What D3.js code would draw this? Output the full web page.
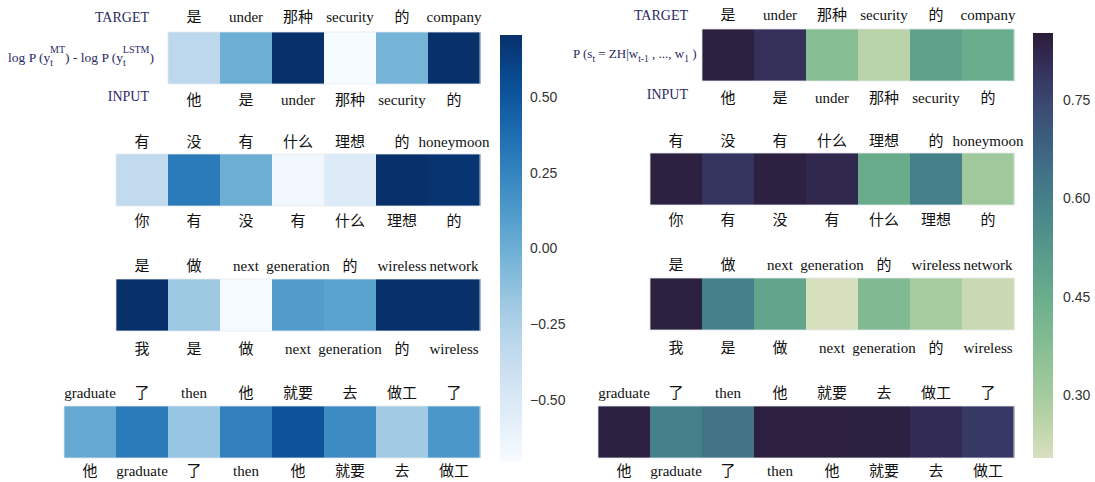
<!DOCTYPE html>
<html>
<head>
<meta charset="utf-8">
<script src="https://cdn.jsdelivr.net/npm/d3@7"></script>
<style>
  html, body { margin: 0; padding: 0; background: #fff; }
  svg { display: block; }
  .tok { font-family: "Liberation Serif", "Noto Sans CJK SC", serif; font-size: 15px; fill: #111; }
  .side { font-family: "Liberation Serif", serif; fill: #2a2a66; }
  .cb text { font-family: "Liberation Sans", Arial, sans-serif; font-size: 14px; fill: #333; }
</style>
</head>
<body>
<script>
// ---------------- DATA ----------------
const targetTokens = [
  ["是", "under", "那种", "security", "的", "company"],
  ["有", "没", "有", "什么", "理想", "的", "honeymoon"],
  ["是", "做", "next", "generation", "的", "wireless", "network"],
  ["graduate", "了", "then", "他", "就要", "去", "做工", "了"]
];
const inputTokens = [
  ["他", "是", "under", "那种", "security", "的"],
  ["你", "有", "没", "有", "什么", "理想", "的"],
  ["我", "是", "做", "next", "generation", "的", "wireless"],
  ["他", "graduate", "了", "then", "他", "就要", "去", "做工"]
];
// log P(y_t^MT) - log P(y_t^LSTM)
const logDiffValues = [
  [-0.32, 0.00, 0.70, -0.70, -0.03, 0.70],
  [-0.34, 0.31, 0.00, -0.66, -0.52, 0.70, 0.68],
  [0.70, -0.18, -0.69, 0.11, 0.07, 0.70, 0.70],
  [0.03, 0.30, -0.15, 0.27, 0.52, 0.21, -0.20, 0.14]
];
// P(s_t = ZH | w_{t-1}, ..., w_1)
const switchProbValues = [
  [0.84, 0.80, 0.375, 0.26, 0.49, 0.45],
  [0.84, 0.79, 0.84, 0.82, 0.455, 0.60, 0.31],
  [0.84, 0.60, 0.48, 0.21, 0.39, 0.295, 0.235],
  [0.84, 0.60, 0.635, 0.845, 0.845, 0.84, 0.81, 0.78]
];
const leftTicks = [-0.50, -0.25, 0.00, 0.25, 0.50];
const rightTicks = [0.30, 0.45, 0.60, 0.75];
const leftDomain = [-0.705, 0.705];
const rightDomain = [0.204, 0.852];
const rightStopValues = [0.204, 0.25, 0.30, 0.375, 0.45, 0.525, 0.60, 0.675, 0.75, 0.80, 0.852];
const rightStopColors = ["#d8e0c0", "#c0d6ac", "#a3cb9d", "#86bd93", "#6aad8c", "#55978b",
                         "#45808a", "#3e6482", "#3a4670", "#34305a", "#2b1c3b"];

// ---------------- SETUP ----------------
const W = 1095, H = 482;
const svg = d3.select("body").append("svg").attr("width", W).attr("height", H);

const leftColor = d3.scaleSequential(d3.interpolateBlues).domain(leftDomain);
const rightColor = d3.scaleLinear().domain(rightStopValues).range(rightStopColors)
  .interpolate(d3.interpolateRgb).clamp(true);

const cellW = 52, cellH = 52;

function drawPanel(cfg) {
  const g = svg.append("g");
  cfg.values.forEach((row, r) => {
    const n = row.length;
    const x = d3.scaleBand().domain(d3.range(n))
      .range([cfg.right - n * cellW, cfg.right]).padding(0);
    const top = cfg.tops[r];
    const rg = g.append("g");
    rg.selectAll("rect.cell").data(row).join("rect")
      .attr("class", "cell")
      .attr("x", (d, i) => x(i))
      .attr("y", top)
      .attr("width", x.bandwidth() + 0.5)
      .attr("height", cellH)
      .attr("fill", d => cfg.color(d));
    rg.append("rect")
      .attr("x", x.range()[0]).attr("y", top)
      .attr("width", x.range()[1] - x.range()[0]).attr("height", cellH)
      .attr("fill", "none").attr("stroke", "#e4e8ee").attr("stroke-width", 0.8);
    rg.selectAll("text.t").data(targetTokens[r]).join("text")
      .attr("class", "tok t")
      .attr("x", (d, i) => x(i) + x.bandwidth() / 2)
      .attr("y", top - cfg.topOff[r])
      .attr("text-anchor", "middle")
      .attr("dominant-baseline", "central")
      .text(d => d);
    rg.selectAll("text.i").data(inputTokens[r]).join("text")
      .attr("class", "tok i")
      .attr("x", (d, i) => x(i) + x.bandwidth() / 2)
      .attr("y", top + cellH + cfg.botOff[r])
      .attr("text-anchor", "middle")
      .attr("dominant-baseline", "central")
      .text(d => d);
  });
  g.append("text").attr("class", "side").attr("font-size", 14)
    .attr("x", cfg.sideX).attr("y", cfg.tops[0] - cfg.topOff[0])
    .attr("text-anchor", "end").attr("dominant-baseline", "central").text("TARGET");
  g.append("text").attr("class", "side").attr("font-size", 14)
    .attr("x", cfg.sideX).attr("y", cfg.tops[0] + cellH + cfg.botOff[0] - 4)
    .attr("text-anchor", "end").attr("dominant-baseline", "central").text("INPUT");
}

function drawColorbar(cfg) {
  const g = svg.append("g").attr("class", "cb");
  const id = cfg.id;
  const grad = svg.append("defs").append("linearGradient").attr("id", id)
    .attr("x1", 0).attr("y1", 1).attr("x2", 0).attr("y2", 0);
  const N = 40;
  d3.range(N + 1).forEach(k => {
    const v = cfg.domain[0] + (cfg.domain[1] - cfg.domain[0]) * k / N;
    grad.append("stop").attr("offset", k / N).attr("stop-color", cfg.color(v));
  });
  const y = d3.scaleLinear().domain(cfg.domain).range([cfg.y1, cfg.y0]);
  g.append("rect").attr("x", cfg.x).attr("y", cfg.y0).attr("width", cfg.w)
    .attr("height", cfg.y1 - cfg.y0).attr("fill", `url(#${id})`);
  const axis = d3.axisRight(y).tickValues(cfg.ticks).tickSize(0).tickPadding(cfg.pad)
    .tickFormat(d => d3.format(".2f")(d).replace("-", "\u2212"));
  const ag = g.append("g").attr("transform", `translate(${cfg.x + cfg.w},0)`).call(axis);
  ag.select(".domain").remove();
  ag.selectAll("text").attr("font-size", 14).attr("fill", "#333")
    .attr("font-family", "Liberation Sans, Arial, sans-serif");
}

drawPanel({
  values: logDiffValues, color: leftColor, right: 480,
  tops: [32, 154, 279, 406], topOff: [15, 12, 13, 13], botOff: [16, 15, 18, 13], sideX: 149
});
drawPanel({
  values: switchProbValues, color: rightColor, right: 1014,
  tops: [29, 153, 278, 406], topOff: [14, 12, 13, 13], botOff: [17, 15, 18, 13], sideX: 688
});

(function () {
  const t = svg.append("text").attr("class", "side").attr("font-size", 13.5)
    .attr("x", 8).attr("y", 62);
  t.append("tspan").text("log P (y");
  t.append("tspan").attr("font-size", 10).attr("dy", 4).text("t");
  t.append("tspan").attr("font-size", 10).attr("dx", -3).attr("dy", -13).text("MT");
  t.append("tspan").attr("dy", 9).text(") - log P (y");
  t.append("tspan").attr("font-size", 10).attr("dy", 4).text("t");
  t.append("tspan").attr("font-size", 10).attr("dx", -3).attr("dy", -13).text("LSTM");
  t.append("tspan").attr("dy", 9).text(")");

  const u = svg.append("text").attr("class", "side").attr("font-size", 13)
    .attr("x", 573).attr("y", 58);
  u.append("tspan").text("P (s");
  u.append("tspan").attr("font-size", 9.5).attr("dy", 4).text("t");
  u.append("tspan").attr("dy", -4).text(" = ZH|w");
  u.append("tspan").attr("font-size", 9.5).attr("dy", 4).text("t-1");
  u.append("tspan").attr("dy", -4).text(" , ..., w");
  u.append("tspan").attr("font-size", 9.5).attr("dy", 4).text("1");
  u.append("tspan").attr("dy", -4).text(" )");
})();

drawColorbar({ id: "gl", domain: leftDomain, color: leftColor, ticks: leftTicks,
  x: 500, w: 22, y0: 35, y1: 462, pad: 8 });
drawColorbar({ id: "gr", domain: rightDomain, color: rightColor, ticks: rightTicks,
  x: 1033, w: 20, y0: 33, y1: 458, pad: 10 });
</script>
</body>
</html>
